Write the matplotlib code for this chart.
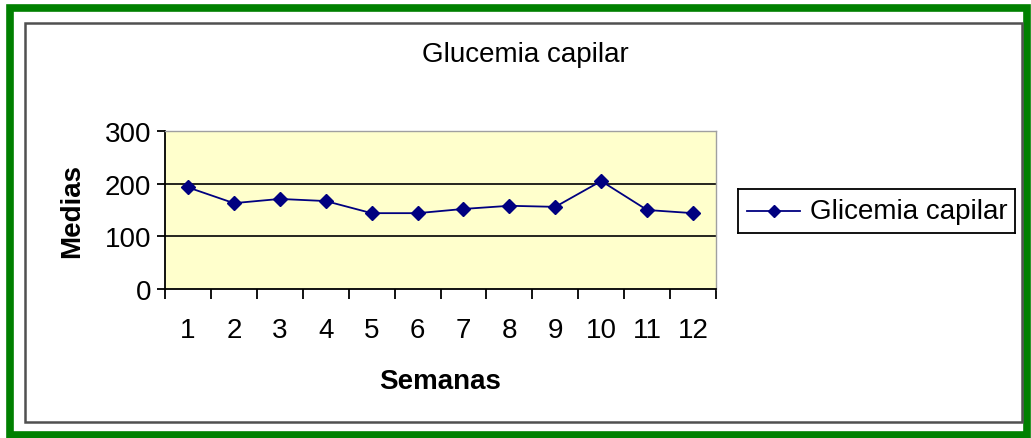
import matplotlib
matplotlib.use("Agg")
import matplotlib.pyplot as plt
from matplotlib.patches import Rectangle
from matplotlib.lines import Line2D

weeks = ["1", "2", "3", "4", "5", "6", "7", "8", "9", "10", "11", "12"]
glicemia = [193, 163, 171, 167, 144, 144, 152, 158, 156, 205, 150, 144]
yticks = [0, 100, 200, 300]

W, H = 1031, 439
FS = 20
FONT = "Liberation Sans"
fig = plt.figure(figsize=(W / 100, H / 100), dpi=100)
fig.patch.set_facecolor("white")

def px(x, y, w, h):
    return [x / W, 1 - (y + h) / H, w / W, h / H]

# Frames
fig.patches.append(Rectangle((9.5 / W, 1 - 436 / H), (1027 - 9.5) / W, (436 - 8.5) / H,
                             transform=fig.transFigure, fill=False, edgecolor="#008000", linewidth=5.5))
fig.patches.append(Rectangle((25 / W, 1 - 423 / H), (1022 - 25) / W, (423 - 24) / H,
                             transform=fig.transFigure, fill=False, edgecolor="#505050", linewidth=1.8))

ax = fig.add_axes(px(165, 132, 551, 158))
ax.set_facecolor("#FFFFCC")
x = list(range(len(weeks)))
ax.plot(x, glicemia, color="#000080", marker="D", markersize=7.5, linewidth=1.3,
        label="Glicemia capilar", zorder=3)
ax.set_xlim(-0.5, len(weeks) - 0.5)
ax.set_ylim(0, 300)
ax.set_yticks(yticks)
ax.set_yticklabels([str(v) for v in yticks], fontsize=FS, fontfamily=FONT)
for v in yticks[1:-1]:
    ax.axhline(v, color="black", linewidth=1.2, zorder=1)
ax.set_xticks([i - 0.5 for i in range(len(weeks) + 1)])
ax.set_xticklabels([])
ax.set_xticks(x, minor=True)
ax.set_xticklabels(weeks, minor=True, fontsize=FS, fontfamily=FONT)
ax.tick_params(axis="x", which="major", direction="out", length=7, width=1.3, color="black")
ax.tick_params(axis="x", which="minor", length=0, pad=20)
ax.tick_params(axis="y", direction="out", length=6, width=1.3, pad=4)
for s in ["left", "bottom"]:
    ax.spines[s].set_color("black")
    ax.spines[s].set_linewidth(1.3)
for s in ["top", "right"]:
    ax.spines[s].set_color("#a0a0a0")
    ax.spines[s].set_linewidth(1.0)

ax.set_xlabel("Semanas", fontsize=FS, fontweight="bold", fontfamily=FONT, labelpad=18)
ax.set_ylabel("Medias", fontsize=FS, fontweight="bold", fontfamily=FONT, labelpad=14)

fig.text(525 / W, 1 - 55 / H, "Glucemia capilar", ha="center", va="center",
         fontsize=FS, fontfamily=FONT)

# Legend
lax = fig.add_axes(px(738, 190, 277, 44))
lax.set_xlim(0, 277)
lax.set_ylim(0, 44)
lax.set_xticks([])
lax.set_yticks([])
for s in lax.spines.values():
    s.set_linewidth(1.3)
    s.set_color("black")
lax.add_line(Line2D([9, 62], [22, 22], color="#000080", linewidth=1.3))
lax.plot([35.5], [22], marker="D", color="#000080", markersize=6.5)
lax.text(72, 22, "Glicemia capilar", va="center", ha="left", fontsize=FS,
         fontfamily=FONT)

fig.savefig("out.png", dpi=100)
